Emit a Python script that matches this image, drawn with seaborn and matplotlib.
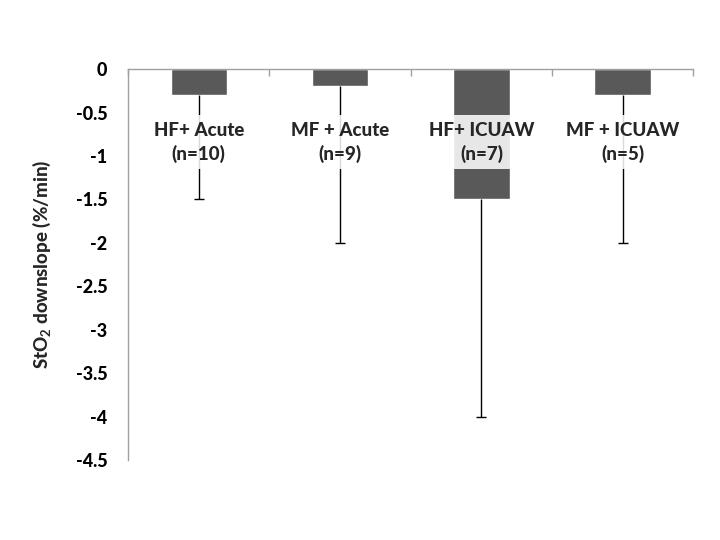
import numpy as np
import seaborn as sns
from matplotlib import pyplot as plt

# values
groups = ['HF+ Acute', 'MF + Acute', 'HF+ ICUAW', 'MF + ICUAW']
n_sizes = [10, 9, 7, 5]
slope_mean = [-0.3, -0.2, -1.5, -0.3]
slope_low = [-1.5, -2.0, -4.0, -2.0]   # lower end of error bar
yticks = [0, -0.5, -1, -1.5, -2, -2.5, -3, -3.5, -4, -4.5]

sns.set_style('white')
plt.rcParams['font.family'] = ['Lato', 'DejaVu Sans']
plt.rcParams['font.weight'] = 'bold'
plt.rcParams['mathtext.fontset'] = 'custom'
plt.rcParams['mathtext.rm'] = 'Lato:bold'
plt.rcParams['mathtext.default'] = 'rm'

fig = plt.figure(figsize=(7.2, 5.4), dpi=100)
ax = fig.add_axes([0.178, 0.148, 0.785, 0.724])

sns.barplot(x=groups, y=slope_mean, color='#595959', saturation=1,
            width=0.4, ax=ax, zorder=2)

pos = np.arange(len(groups))
lower = np.array(slope_mean) - np.array(slope_low)
eb = ax.errorbar(pos, slope_mean, yerr=[lower, np.zeros(len(groups))],
                 fmt='none', ecolor='black', elinewidth=1, capsize=3.6,
                 capthick=1, zorder=3)
# only keep the caps at the lower end
for cl in eb[1]:
    if np.allclose(cl.get_ydata(), slope_mean):
        cl.set_visible(False)

for i, (g, n) in enumerate(zip(groups, n_sizes)):
    ax.text(i, -0.84, '%s\n(n=%d)' % (g, n), ha='center', va='center',
            fontsize=13.5, fontweight='black', linespacing=1.4, zorder=4,
            bbox=dict(boxstyle='square,pad=0.35', fc='white', ec='none', alpha=0.86))

ax.set_ylim(-4.5, 0)
ax.set_xlim(-0.5, 3.5)
ax.set_yticks(yticks)
ax.set_yticklabels(['%g' % t for t in yticks], fontsize=13, fontweight='black')

# category boundaries as ticks on the top axis
ax.xaxis.tick_top()
ax.set_xticks(np.arange(-0.5, 4, 1))
ax.set_xticklabels([])
ax.tick_params(axis='x', direction='in', length=5, width=1, colors='#a0a0a0')
ax.tick_params(axis='y', direction='out', length=5, width=1, colors='#a0a0a0',
               labelcolor='black', pad=10)
ax.set_xlabel('')

for s in ['bottom', 'right']:
    ax.spines[s].set_visible(False)
for s in ['top', 'left']:
    ax.spines[s].set_color('#a0a0a0')
    ax.spines[s].set_linewidth(1)

ax.set_ylabel(r'StO$_{2}$ downslope (%/min)', fontsize=13.5, fontweight='black',
              labelpad=16)

plt.savefig('out.png', dpi=100)
